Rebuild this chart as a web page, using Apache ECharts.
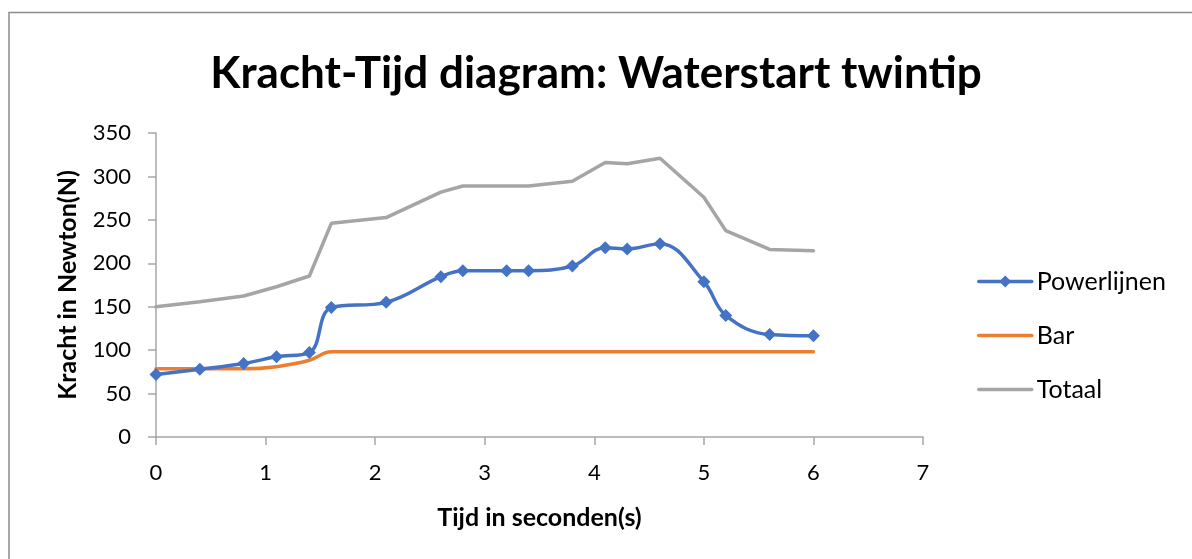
<!DOCTYPE html>
<html>
<head>
<meta charset="utf-8">
<script src="https://cdn.jsdelivr.net/npm/echarts@6/dist/echarts.min.js"></script>
<style>html,body{margin:0;padding:0;background:#fff}#c{width:1192px;height:559px}</style>
</head>
<body>
<div id="c"></div>
<script>
// Data
var tijd       = [0, 0.4, 0.8, 1.1, 1.4, 1.6, 2.1, 2.6, 2.8, 3.2, 3.4, 3.8, 4.1, 4.3, 4.6, 5.0, 5.2, 5.6, 6.0];
var powerlijnen = [72, 78, 84.7, 92.3, 97.3, 149, 155, 184.6, 191.5, 191.5, 191.5, 196.9, 218, 216.5, 222.6, 178.8, 140, 118, 116.5];
var bar        = [78.5, 78.5, 78.5, 81, 88.3, 98.1, 98.1, 98.1, 98.1, 98.1, 98.1, 98.1, 98.1, 98.1, 98.1, 98.1, 98.1, 98.1, 98.1];
var totaal     = [150, 155.7, 162.3, 173, 185.4, 246, 252.6, 282, 289, 289, 289, 294.5, 316, 314.5, 321, 276, 237.6, 216, 214.5];
var xTicks = {min: 0, max: 7, interval: 1};
var yTicks = {min: 0, max: 350, interval: 50};

function pairs(xs, ys){ return xs.map(function(x,i){ return [x, ys[i]]; }); }

var FONT = 'Lato';
var chart = echarts.init(document.getElementById('c'), null, {renderer: 'canvas'});
chart.setOption({
  animation: false,
  backgroundColor: '#fff',
  textStyle: {fontFamily: FONT},
  graphic: [{
    type: 'rect', silent: true,
    shape: {x: 9, y: 12.5, width: 1400, height: 800},
    style: {fill: 'none', stroke: '#8c8c8c', lineWidth: 1.5}
  }],
  title: {
    text: 'Kracht-Tijd diagram: Waterstart twintip',
    left: 'center', top: 47,
    textStyle: {fontFamily: FONT, fontWeight: 'bold', fontSize: 44, color: '#000'}
  },
  grid: {left: 156, right: 269, top: 133, bottom: 122},
  legend: {
    orient: 'vertical', left: 972, top: 264,
    itemWidth: 53, itemHeight: 15, itemGap: 29,
    lineStyle: {width: 3.5},
    textStyle: {fontFamily: FONT, fontSize: 25, color: '#000', lineHeight: 24},
    data: [
      {name: 'Powerlijnen'},
      {name: 'Bar', itemStyle: {opacity: 0}},
      {name: 'Totaal', itemStyle: {opacity: 0}}
    ]
  },
  xAxis: {
    type: 'value', min: xTicks.min, max: xTicks.max, interval: xTicks.interval,
    name: 'Tijd in seconden(s)', nameLocation: 'middle', nameGap: 68,
    nameTextStyle: {fontFamily: FONT, fontWeight: 'bold', fontSize: 25, color: '#000'},
    axisLine: {show: true, lineStyle: {color: '#a6a6a6', width: 1.5}},
    axisTick: {show: true, length: 8, lineStyle: {color: '#a6a6a6', width: 1.5}},
    axisLabel: {fontFamily: FONT, fontSize: 22, color: '#000', margin: 25},
    splitLine: {show: false}
  },
  yAxis: {
    type: 'value', min: yTicks.min, max: yTicks.max, interval: yTicks.interval,
    name: 'Kracht in Newton(N)', nameLocation: 'middle', nameGap: 76, nameRotate: 90,
    nameTextStyle: {fontFamily: FONT, fontWeight: 'bold', fontSize: 25, color: '#000'},
    axisLine: {show: true, lineStyle: {color: '#a6a6a6', width: 1.5}},
    axisTick: {show: true, length: 8, lineStyle: {color: '#a6a6a6', width: 1.5}},
    axisLabel: {fontFamily: FONT, fontSize: 22, color: '#000', margin: 25},
    splitLine: {show: false}
  },
  series: [
    {
      name: 'Powerlijnen', type: 'line', smooth: 0.4, data: pairs(tijd, powerlijnen),
      symbol: 'diamond', symbolSize: 13, showAllSymbol: true,
      lineStyle: {color: '#4472C4', width: 3.5, cap: 'round'},
      itemStyle: {color: '#4472C4', borderWidth: 0}, z: 4
    },
    {
      name: 'Bar', type: 'line', smooth: 0.4, data: pairs(tijd, bar),
      symbol: 'none',
      lineStyle: {color: '#ED7D31', width: 3.5, cap: 'round'},
      itemStyle: {color: '#ED7D31'}, z: 3
    },
    {
      name: 'Totaal', type: 'line', smooth: false, data: pairs(tijd, totaal),
      symbol: 'none',
      lineStyle: {color: '#A5A5A5', width: 3.5, cap: 'round'},
      itemStyle: {color: '#A5A5A5'}, z: 2
    }
  ]
});
</script>
</body>
</html>
